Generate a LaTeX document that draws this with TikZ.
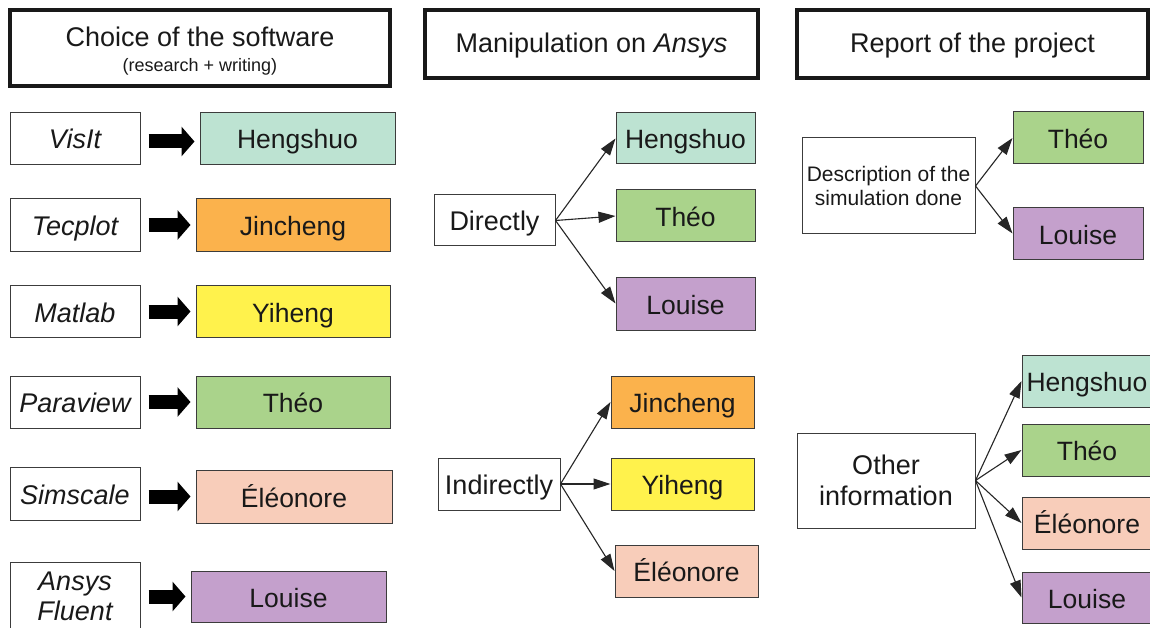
\documentclass[tikz,border=0pt]{standalone}
\usepackage{fontspec}
\setmainfont{Liberation Sans}
\usetikzlibrary{arrows.meta}
\definecolor{cmint}{RGB}{189,227,210}
\definecolor{corange}{RGB}{251,178,76}
\definecolor{cyellow}{RGB}{255,242,76}
\definecolor{cgreen}{RGB}{170,211,139}
\definecolor{cpeach}{RGB}{248,205,186}
\definecolor{cpurple}{RGB}{196,160,204}
\definecolor{cline}{RGB}{60,60,60}
\definecolor{ctext}{RGB}{25,25,25}
\begin{document}
\begin{tikzpicture}[x=1pt,y=-1pt,
  every node/.style={text=ctext},
  hdr/.style={draw=black!90, line width=3.6pt, inner sep=0pt, align=center,
    font=\fontsize{27}{30}\selectfont},
  onel/.style={text height=24pt, text depth=3pt},
  swbox/.style={draw=cline, line width=1pt, fill=white, inner sep=0pt,
    minimum width=130pt, minimum height=52pt, align=center,
    font=\fontsize{27}{30}\selectfont\itshape},
  pbox/.style={draw=cline, line width=1pt, inner sep=0pt, minimum height=52pt,
    onel, font=\fontsize{26.5}{30}\selectfont},
  srcbox/.style={draw=cline, line width=1pt, fill=white, inner sep=0pt, align=center,
    font=\fontsize{27}{31}\selectfont},
  fatarrow/.style={draw=black, line width=14pt,
    -{Triangle[length=13pt,width=29pt]}, shorten <=8pt, shorten >=5pt},
  conn/.style={draw=black!85, line width=1.1pt,
    -{Triangle[length=17pt,width=11pt]}}
]
\useasboundingbox[fill=white] (0,0) rectangle (1150,628);

% headers
\node[hdr, minimum width=380pt, minimum height=76pt] (h1) at (200,48) {};
\node[align=center, font=\fontsize{27}{30}\selectfont] (h1t) at (200,51)
  {Choice of the software\\[-5pt]{\fontsize{18}{20}\selectfont (research + writing)}};
\node[hdr, text height=22pt, text depth=4pt, minimum width=333pt, minimum height=68pt] (h2) at (591.5,44)
  {Manipulation on \textit{Ansys}};
\node[hdr, text height=22pt, text depth=4pt, minimum width=351pt, minimum height=68pt] (h3) at (972.5,44)
  {Report of the project};

% left column
\node[swbox, onel] (s1) at (75,138.5) {VisIt};
\node[swbox, onel] (s2) at (75,225) {Tecplot};
\node[swbox, onel] (s3) at (75,311.5) {Matlab};
\node[swbox, onel] (s4) at (75,402) {Paraview};
\node[swbox, onel, minimum height=53pt] (s5) at (75,493.5) {Simscale};
\node[swbox, minimum height=68pt] (s6) at (75,596) {Ansys\\Fluent};

\node[pbox, fill=cmint, minimum width=195pt] (p1) at (297.5,138.5) {Hengshuo};
\node[pbox, fill=corange, minimum width=194pt] (p2) at (293,225) {Jincheng};
\node[pbox, fill=cyellow, minimum width=194pt] (p3) at (293,311.5) {Yiheng};
\node[pbox, fill=cgreen, minimum width=194pt] (p4) at (293,402) {Th\'eo};
\node[pbox, fill=cpeach, minimum width=196pt, minimum height=53pt] (p5) at (294,496.5) {\'El\'eonore};
\node[pbox, fill=cpurple, minimum width=195pt, minimum height=51pt] (p6) at (288.5,596.5) {Louise};

\draw[fatarrow, transform canvas={yshift=-3pt}] (s1) -- (p1);
\draw[fatarrow] (s2) -- (p2);
\draw[fatarrow] (s3) -- (p3);
\draw[fatarrow] (s4) -- (p4);
\draw[fatarrow] (s5.east |- p5.west) -- (p5.west);
\draw[fatarrow] (s6.east |- p6.west) -- (p6.west);

% middle column
\node[srcbox, onel, minimum width=121pt, minimum height=51pt] (dir) at (494.5,220.5) {Directly};
\node[pbox, fill=cmint, minimum width=139pt, minimum height=51pt] (m1) at (685.5,138.5) {Hengshuo};
\node[pbox, fill=cgreen, minimum width=139pt] (m2) at (685.5,216) {Th\'eo};
\node[pbox, fill=cpurple, minimum width=139pt, minimum height=53pt] (m3) at (685.5,303.5) {Louise};
\draw[conn] (dir.east) -- (m1.west);
\draw[conn] (dir.east) -- (m2.west);
\draw[conn] (dir.east) -- (m3.west);

\node[srcbox, onel, minimum width=122pt, minimum height=52pt] (ind) at (499,484) {Indirectly};
\node[pbox, fill=corange, minimum width=143pt] (m4) at (682.5,402) {Jincheng};
\node[pbox, fill=cyellow, minimum width=143pt] (m5) at (682.5,484) {Yiheng};
\node[pbox, fill=cpeach, minimum width=143pt] (m6) at (686.5,571) {\'El\'eonore};
\draw[conn] (ind.east) -- (m4.west);
\draw[conn] (ind.east) -- (m5.west);
\draw[conn] (ind.east) -- (m6.west);

% right column
\node[srcbox, minimum width=173pt, minimum height=96pt, font=\fontsize{21}{24}\selectfont] (desc) at (888.5,186)
  {Description of the\\simulation done};
\node[pbox, fill=cgreen, minimum width=130pt] (r1) at (1078,138) {Th\'eo};
\node[pbox, fill=cpurple, minimum width=130pt, minimum height=51pt] (r2) at (1078,233.5) {Louise};
\draw[conn] (desc.east) -- (r1.west);
\draw[conn] (desc.east) -- (r2.west);

\node[srcbox, minimum width=178pt, minimum height=95pt] (oth) at (886,480.5)
  {Other\\information};
\node[pbox, fill=cmint, minimum width=130pt] (r3) at (1087,381) {Hengshuo};
\node[pbox, fill=cgreen, minimum width=130pt] (r4) at (1087,450) {Th\'eo};
\node[pbox, fill=cpeach, minimum width=130pt] (r5) at (1087,523) {\'El\'eonore};
\node[pbox, fill=cpurple, minimum width=130pt, minimum height=51pt] (r6) at (1087,597.5) {Louise};
\draw[conn] (oth.east) -- (r3.west);
\draw[conn] (oth.east) -- (r4.west);
\draw[conn] (oth.east) -- (r5.west);
\draw[conn] (oth.east) -- (r6.west);
\end{tikzpicture}
\end{document}
